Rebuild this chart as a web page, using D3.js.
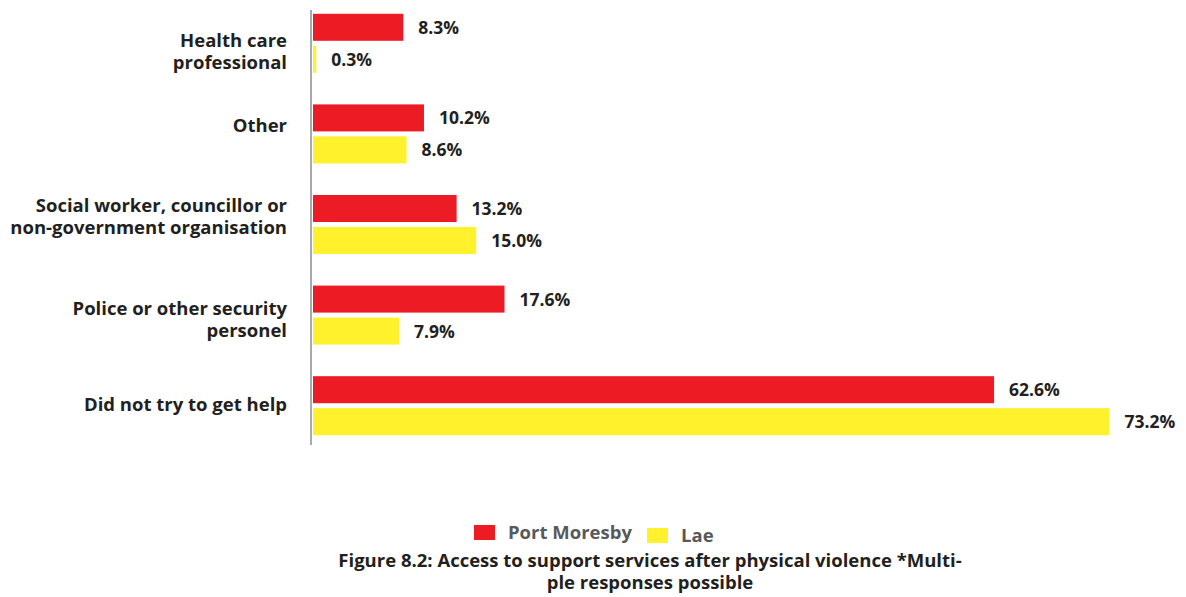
<!DOCTYPE html>
<html>
<head>
<meta charset="utf-8">
<script src="https://cdn.jsdelivr.net/npm/d3@7"></script>
<style>
  body { margin: 0; background: #fff; }
  svg text { font-family: "Open Sans", "DejaVu Sans", sans-serif; font-weight: 700; }
</style>
</head>
<body>
<div id="chartDiv"></div>
<script>
// categories top to bottom, label lines split by "|"
var categories = ["Health care|professional", "Other", "Social worker, councillor or|non-government organisation",
                  "Police or other security|personel", "Did not try to get help"];
var portMoresby = [8.3, 10.2, 13.2, 17.6, 62.6];
var lae = [0.3, 8.6, 15.0, 7.9, 73.2];
var seriesNames = ["Port Moresby", "Lae"];
var seriesColors = ["#ed1c24", "#fff12b"];
var titleLines = ["Figure 8.2: Access to support services after physical violence *Multi-", "ple responses possible"];

var width = 1186, height = 597;
var margin = {top: 10, left: 313};
// vertical nudge of each category label relative to its bar pair (layout only)
var labelShift = [8.5, -8.5, -8.5, 4.5, -1.5];

var svg = d3.select('#chartDiv').append('svg')
    .attr('width', width)
    .attr('height', height);

var x = d3.scaleLinear().domain([0, 100]).range([margin.left, margin.left + 1088]);
var y = d3.scaleBand().domain(d3.range(categories.length)).range([-2, 451]).paddingInner(0);
var barH = 27, barGap = 5;

var rows = categories.map(function(c, i) {
    return {cat: c, vals: [portMoresby[i], lae[i]], shift: labelShift[i]};
});

// axis line
svg.append('line')
    .attr('x1', 311).attr('x2', 311)
    .attr('y1', 10).attr('y2', 445)
    .attr('stroke', '#a7a9ac')
    .attr('stroke-width', 2);

var g = svg.selectAll('.grp')
    .data(rows)
    .enter().append('g')
    .attr('class', 'grp')
    .attr('transform', function(d, i) {
        return 'translate(0,' + (y(i) + y.bandwidth() / 2) + ')';
    });

// bars
g.selectAll('rect')
    .data(function(d) { return d.vals; })
    .enter().append('rect')
    .attr('x', x(0))
    .attr('y', function(d, j) { return j === 0 ? -barH - barGap / 2 : barGap / 2; })
    .attr('width', function(d) { return x(d) - x(0); })
    .attr('height', barH)
    .style('fill', function(d, j) { return seriesColors[j]; });

// value labels
g.selectAll('.val')
    .data(function(d) { return d.vals; })
    .enter().append('text')
    .attr('class', 'val')
    .attr('x', function(d) { return x(d) + 15; })
    .attr('y', function(d, j) { return j === 0 ? -barH / 2 - barGap / 2 + 6.5 : barH / 2 + barGap / 2 + 6.5; })
    .attr('fill', '#231f20')
    .style('font-size', '17.5px')
    .text(function(d) { return d.toFixed(1) + '%'; });

// category labels
g.append('text')
    .attr('text-anchor', 'end')
    .attr('fill', '#231f20')
    .style('font-size', '18.5px')
    .each(function(d) {
        var lines = d.cat.split('|');
        var t = d3.select(this);
        var y0 = d.shift + 6.5 - (lines.length - 1) * 11;
        lines.forEach(function(l, k) {
            t.append('tspan').attr('x', 287).attr('y', y0 + k * 22).text(l);
        });
    });

// legend
var legendX = [474, 647];
var legendY = [525, 528];
var leg = svg.selectAll('.leg')
    .data(seriesNames)
    .enter().append('g')
    .attr('class', 'leg')
    .attr('transform', function(d, i) { return 'translate(' + legendX[i] + ',' + legendY[i] + ')'; });
leg.append('rect')
    .attr('width', 21).attr('height', 15)
    .style('fill', function(d, i) { return seriesColors[i]; });
leg.append('text')
    .attr('x', 34)
    .attr('y', 14)
    .attr('fill', '#58595b')
    .style('font-size', '18.5px')
    .text(function(d) { return d; });

// caption
svg.selectAll('.cap')
    .data(titleLines)
    .enter().append('text')
    .attr('class', 'cap')
    .attr('x', 650)
    .attr('y', function(d, i) { return 567 + i * 22; })
    .attr('text-anchor', 'middle')
    .attr('fill', '#231f20')
    .style('font-size', '18.5px')
    .text(function(d) { return d; });
</script>
</body>
</html>
